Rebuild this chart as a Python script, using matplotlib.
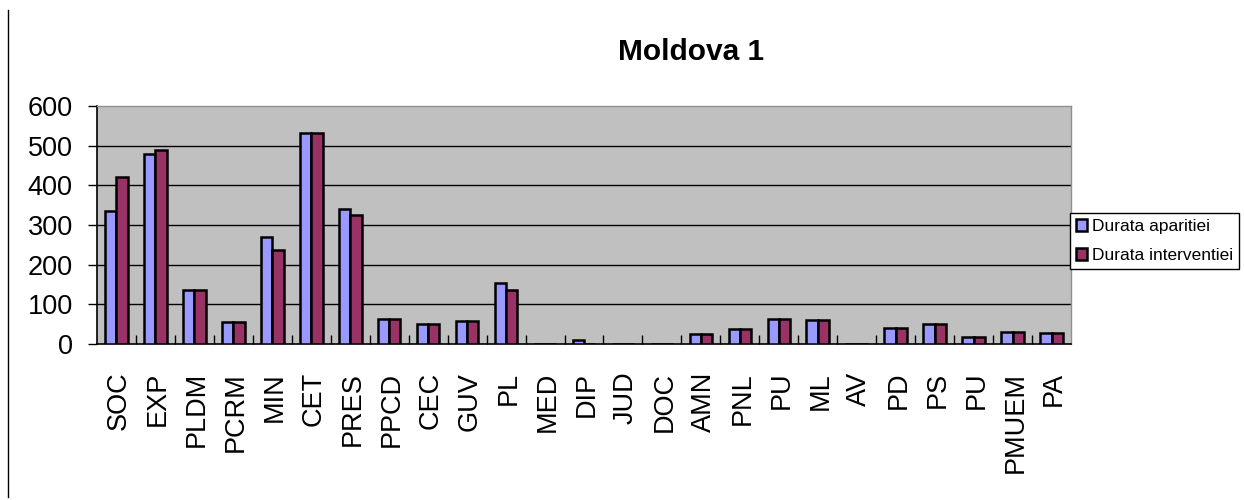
import matplotlib
matplotlib.use("Agg")
import matplotlib.pyplot as plt
from matplotlib.lines import Line2D
import numpy as np

plt.rcParams['font.family'] = ['Liberation Sans', 'DejaVu Sans']

categories = ["SOC", "EXP", "PLDM", "PCRM", "MIN", "CET", "PRES", "PPCD", "CEC", "GUV",
              "PL", "MED", "DIP", "JUD", "DOC", "AMN", "PNL", "PU", "ML", "AV",
              "PD", "PS", "PU", "PMUEM", "PA"]
durata_aparitiei = [335, 478, 135, 55, 271, 532, 341, 64, 51, 58,
                    154, 0, 9, 0, 0, 25, 38, 63, 60, 0,
                    40, 50, 18, 30, 28]
durata_interventiei = [422, 490, 135, 55, 238, 532, 324, 64, 51, 58,
                       135, 0, 0, 0, 0, 25, 38, 63, 60, 0,
                       40, 50, 18, 30, 28]
series_names = ["Durata aparitiei", "Durata interventiei"]
yticks = [0, 100, 200, 300, 400, 500, 600]

fig = plt.figure(figsize=(12.44, 5.0), dpi=100)
ax = fig.add_axes([97/1244, 1-344/500, (1071-97)/1244, (344-106)/500])
ax.set_facecolor('#C0C0C0')

x = np.arange(len(categories))
w = 0.29
ax.bar(x - w/2, durata_aparitiei, w, color='#9999FF', edgecolor='black', linewidth=1.8,
       label=series_names[0], zorder=3)
ax.bar(x + w/2, durata_interventiei, w, color='#993366', edgecolor='black', linewidth=1.8,
       label=series_names[1], zorder=3)

ax.set_xlim(-0.5, len(categories) - 0.5)
ax.set_ylim(0, 600)
ax.set_yticks(yticks)
ax.set_yticklabels([str(v) for v in yticks], fontsize=19.5)
for v in yticks[1:-1]:
    ax.axhline(v, color='black', linewidth=1.0, zorder=1)

ax.set_xticks(x + 0.07)
ax.set_xticklabels(categories, rotation=90, fontsize=19.5)
ax.tick_params(axis='x', length=0, pad=20)
ax.set_xticks(np.arange(0.5, len(categories) - 0.5, 1), minor=True)
ax.tick_params(axis='x', which='minor', direction='in', length=6.5, width=1.0, color='black')
ax.tick_params(axis='y', direction='out', length=6.5, width=1.0, pad=11)

ax.spines['left'].set_color('black')
ax.spines['bottom'].set_color('black')
ax.spines['left'].set_linewidth(1.2)
ax.spines['bottom'].set_linewidth(1.2)
ax.spines['top'].set_color('#909090')
ax.spines['right'].set_color('#909090')
ax.spines['top'].set_linewidth(1.0)
ax.spines['right'].set_linewidth(1.0)

fig.text(691/1244, 1-60/500, "Moldova 1", ha='center', va='baseline', fontsize=21.5, fontweight='bold')

leg = fig.legend(loc='upper left', bbox_to_anchor=(1070/1244, 1-213/500), fontsize=12.5,
                 frameon=True, fancybox=False, edgecolor='black', framealpha=1,
                 handlelength=0.65, handleheight=0.65, handletextpad=0.25,
                 borderpad=0.35, labelspacing=0.8, borderaxespad=0)
leg.get_frame().set_linewidth(1.0)
for h in leg.legend_handles:
    h.set_linewidth(1.8)

fig.add_artist(Line2D([8/1244, 8/1244], [1-10/500, 1-497/500], color='black', linewidth=1.0,
                      transform=fig.transFigure))

fig.savefig("out.png", dpi=100)
